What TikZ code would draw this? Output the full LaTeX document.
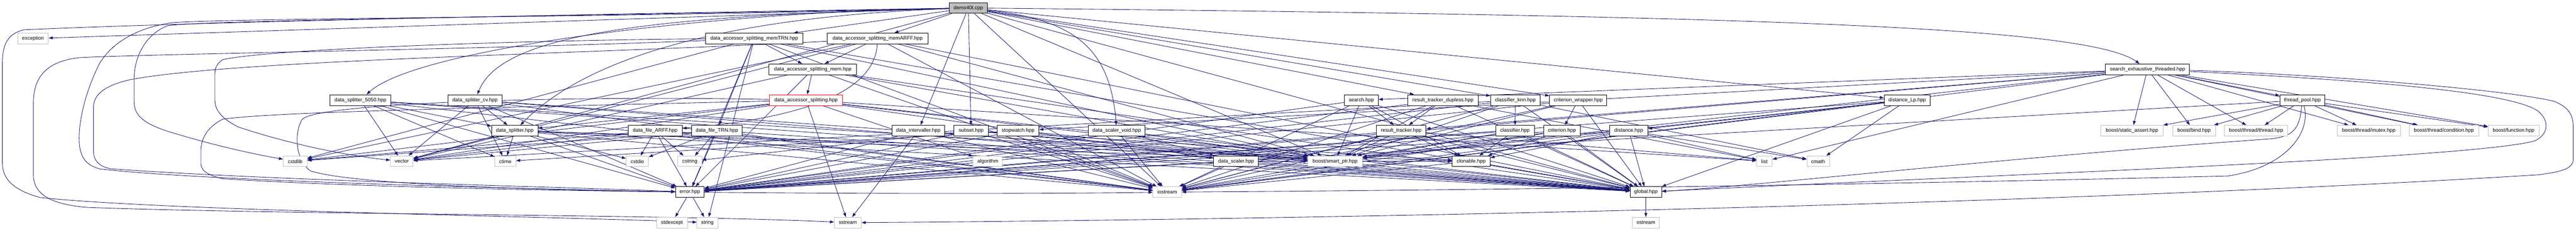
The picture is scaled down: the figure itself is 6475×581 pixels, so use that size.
\documentclass[tikz,border=0pt]{standalone}
\usepackage{fontspec}
\setmainfont{Liberation Sans}
\usetikzlibrary{arrows.meta,backgrounds}
\definecolor{edgeblue}{RGB}{25,25,112}
\definecolor{sysgrey}{RGB}{191,191,191}
\definecolor{demogrey}{RGB}{191,191,191}
\tikzset{
  bw/.style={minimum width=0.25*#1pt},
  proj/.style={draw=black, line width=0.32pt, fill=white, minimum height=6.75pt, inner sep=0pt,
    font=\fontsize{3.2pt}{3.8pt}\selectfont},
  sys/.style={proj, draw=sysgrey},
  edge/.style={draw=edgeblue, line width=0.28pt, -{Triangle[length=2.6pt,width=1.8pt]}},
}
\begin{document}
\begin{tikzpicture}[x=0.25pt,y=-0.25pt]
\useasboundingbox (0,0) rectangle (6475,581);
% row 0
\node[proj,bw=96,fill=demogrey] (demo) at (2434,20) {demo40t.cpp};
% row 1
\node[sys,bw=77] (exception) at (83,97) {exception};
\node[proj,bw=244] (memTRN) at (1896,97) {data\_accessor\_splitting\_memTRN.hpp};
\node[proj,bw=253] (memARFF) at (2206,97) {data\_accessor\_splitting\_memARFF.hpp};
% row 2
\node[proj,bw=220] (mem) at (2043,174.5) {data\_accessor\_splitting\_mem.hpp};
\node[proj,bw=211] (seth) at (5398,174.5) {search\_exhaustive\_threaded.hpp};
% row 3
\node[proj,bw=152] (ds5050) at (906,252) {data\_splitter\_5050.hpp};
\node[proj,bw=136] (dscv) at (1194,252) {data\_splitter\_cv.hpp};
\node[proj,bw=184,draw=red] (das) at (2026,252) {data\_accessor\_splitting.hpp};
\node[proj,bw=85] (search) at (3422,252) {search.hpp};
\node[proj,bw=178] (rtd) at (3627,252) {result\_tracker\_dupless.hpp};
\node[proj,bw=125] (cknn) at (3809,252) {classifier\_knn.hpp};
\node[proj,bw=144] (cw) at (3967,252) {criterion\_wrapper.hpp};
\node[proj,bw=116] (dlp) at (4794,252) {distance\_Lp.hpp};
\node[proj,bw=113] (tp) at (5787,252) {thread\_pool.hpp};
% row 4
\node[proj,bw=116] (dsplit) at (1294,329) {data\_splitter.hpp};
\node[proj,bw=136] (dfarff) at (1647,329) {data\_file\_ARFF.hpp};
\node[proj,bw=127] (dftrn) at (1802,329) {data\_file\_TRN.hpp};
\node[proj,bw=132] (dint) at (2308,329) {data\_intervaller.hpp};
\node[proj,bw=86] (subset) at (2441,329) {subset.hpp};
\node[proj,bw=105] (stopwatch) at (2559,329) {stopwatch.hpp};
\node[proj,bw=143] (dsv) at (2807,329) {data\_scaler\_void.hpp};
\node[proj,bw=125] (rt) at (3522,329) {result\_tracker.hpp};
\node[proj,bw=97] (cls) at (3808,329) {classifier.hpp};
\node[proj,bw=92] (crit) at (3926,329) {criterion.hpp};
\node[proj,bw=96] (dist) at (4094,329) {distance.hpp};
\node[sys,bw=157] (bsa) at (5359,329) {boost/static\_assert.hpp};
\node[sys,bw=107] (bbind) at (5515,329) {boost/bind.hpp};
\node[sys,bw=159] (bthr) at (5671,329) {boost/thread/thread.hpp};
\node[sys,bw=159] (bmut) at (5954,329) {boost/thread/mutex.hpp};
\node[sys,bw=175] (bcond) at (6143,329) {boost/thread/condition.hpp};
\node[sys,bw=128] (bfun) at (6318,329) {boost/function.hpp};
% row 5
\node[sys,bw=60] (cstdlib) at (742,406) {cstdlib};
\node[sys,bw=57] (vector) at (1010,406) {vector};
\node[sys,bw=53] (ctime) at (1270,406) {ctime};
\node[sys,bw=56] (cstdio) at (1602,406) {cstdio};
\node[sys,bw=60] (cstring) at (1734,406) {cstring};
\node[sys,bw=74] (algorithm) at (2483,406) {algorithm};
\node[proj,bw=113] (dscaler) at (3107,406) {data\_scaler.hpp};
\node[sys,bw=137] (bsp) at (3356,406) {boost/smart\_ptr.hpp};
\node[proj,bw=95] (clon) at (3698,406) {clonable.hpp};
\node[sys,bw=39] (list) at (4435,406) {list};
\node[sys,bw=57] (cmath) at (4570,406) {cmath};
% row 6
\node[proj,bw=72] (error) at (1734,483.5) {error.hpp};
\node[sys,bw=72] (iostream) at (2934,483.5) {iostream};
\node[proj,bw=79] (global) at (4137,483.5) {global.hpp};
% row 7
\node[sys,bw=78] (stdexcept) at (1689,560.5) {stdexcept};
\node[sys,bw=52] (string) at (1778,560.5) {string};
\node[sys,bw=68] (sstream) at (2131,560.5) {sstream};
\node[sys,bw=67] (ostream) at (4137,560.5) {ostream};

\begin{scope}[on background layer]
\fill[white] (0,0) rectangle (6475,581);
\foreach \s/\t in {
 demo/exception, demo/iostream, demo/bsp, demo/global, demo/subset, demo/dint, demo/memTRN, demo/memARFF,
 demo/cw, demo/cknn, demo/rtd, demo/dlp, demo/vector,
 memTRN/mem, memTRN/dftrn, memTRN/bsp, memTRN/error, memTRN/global, memTRN/iostream, memTRN/cstdlib, memTRN/string,
 memARFF/mem, memARFF/bsp, memARFF/global, memARFF/iostream, memARFF/vector, memARFF/cstdlib,
 mem/das, mem/bsp, mem/error, mem/global, mem/iostream, mem/vector,
 das/dsplit, das/dscaler, das/algorithm, das/bsp, das/global, das/vector, das/cstdlib, das/list, das/sstream,
 dfarff/cstdio, dfarff/cstring, dfarff/cstdlib, dfarff/error, dfarff/global, dfarff/iostream, dfarff/vector,
 dftrn/cstdio, dftrn/cstring, dftrn/cstdlib, dftrn/error, dftrn/global, dftrn/iostream, dftrn/vector,
 dsplit/vector, dsplit/ctime, dsplit/cstdio, dsplit/error, dsplit/global, dsplit/iostream, dsplit/bsp, dsplit/clon,
 ds5050/dsplit, ds5050/vector, ds5050/ctime, ds5050/error, ds5050/global, ds5050/iostream, ds5050/bsp,
 dscv/dsplit, dscv/vector, dscv/ctime, dscv/error, dscv/global, dscv/iostream, dscv/bsp,
 dint/sstream, dint/error, dint/global, dint/iostream,
 subset/error, subset/global, subset/iostream, subset/bsp, subset/clon, subset/cstring,
 stopwatch/ctime, stopwatch/iostream, stopwatch/global, stopwatch/error,
 dsv/dscaler, dsv/bsp, dsv/error, dsv/global, dsv/iostream,
 dscaler/iostream, dscaler/bsp, dscaler/error, dscaler/global, dscaler/clon,
 search/rt, search/bsp, search/error, search/global, search/iostream, search/clon,
 rtd/rt, rtd/bsp, rtd/list, rtd/error, rtd/global, rtd/iostream,
 rt/bsp, rt/clon, rt/list, rt/error, rt/global, rt/iostream,
 cknn/cls, cknn/bsp, cknn/cmath, cknn/error, cknn/global, cknn/iostream, cknn/vector,
 cls/clon, cls/bsp, cls/error, cls/global, cls/iostream,
 cw/crit, cw/bsp, cw/error, cw/global, cw/iostream,
 crit/clon, crit/bsp, crit/error, crit/global, crit/iostream,
 dlp/dist, dlp/cmath, dlp/bsp, dlp/error, dlp/global, dlp/iostream,
 dist/list, dist/cmath, dist/clon, dist/error, dist/global, dist/iostream,
 seth/search, seth/bsa, seth/bbind, seth/bthr, seth/bmut, seth/bcond, seth/bfun, seth/tp, seth/stopwatch,
 seth/rt, seth/bsp, seth/list, seth/error, seth/iostream,
 tp/bsa, tp/bbind, tp/bthr, tp/bmut, tp/bcond, tp/bfun, tp/error,
 global/ostream, error/stdexcept, error/string, clon/global, clon/iostream}
 { \draw[edge] (\s) -- (\t); }
% curved edges from demo
\draw[edge] (demo) .. controls (1800,30) and (1050,120) .. (ds5050);
\draw[edge] (demo) .. controls (1600,40) and (1260,90) .. (dscv);
\draw[edge] (demo) .. controls (1900,40) and (1500,120) .. (dsplit);
\draw[edge] (demo) .. controls (2700,50) and (2790,120) .. (dsv);
\draw[edge] (demo) .. controls (4500,40) and (5250,70) .. (seth);
\draw[edge] (memARFF) .. controls (2200,200) and (2100,290) .. (dfarff);
% left loops
\draw[edge] (demo) .. controls (1500,35) and (500,55) .. (60,75) .. controls (20,85) and (6,110) .. (6,160)
  -- (6,410) .. controls (6,455) and (40,480) .. (100,497) .. controls (400,530) and (1400,545) .. (string);
\draw[edge] (memTRN) .. controls (1200,125) and (400,135) .. (200,145) .. controls (110,155) and (84,200) .. (84,260)
  -- (84,440) .. controls (84,490) and (130,515) .. (220,522) .. controls (700,540) and (1700,540) .. (sstream);
\draw[edge] (demo) .. controls (1500,45) and (600,45) .. (434,57) .. controls (340,70) and (280,110) .. (250,160)
  .. controls (215,230) and (199,300) .. (199,348) .. controls (199,395) and (215,415) .. (250,425)
  .. controls (500,455) and (1300,475) .. (error);
\draw[edge] (memARFF) .. controls (1500,135) and (600,150) .. (330,200) .. controls (260,215) and (235,240) .. (235,270)
  -- (235,380) .. controls (235,405) and (250,420) .. (280,425) .. controls (700,455) and (1400,470) .. (error);
\draw[edge] (demo) .. controls (1600,38) and (500,50) .. (420,65) .. controls (360,90) and (337,150) .. (337,200)
  -- (337,255) .. controls (337,290) and (360,310) .. (420,330) .. controls (550,370) and (650,390) .. (cstdlib);
\draw[edge] (memTRN) .. controls (1400,100) and (700,120) .. (560,150) .. controls (545,160) and (540,170) .. (540,190)
  -- (540,250) .. controls (540,280) and (560,300) .. (600,320) .. controls (750,370) and (900,395) .. (vector);
\draw[edge] (das) .. controls (1300,270) and (700,280) .. (560,300) .. controls (520,320) and (505,350) .. (505,380)
  -- (505,410) .. controls (505,430) and (520,440) .. (560,450) .. controls (1200,490) and (2500,490) .. (iostream);
\draw[edge] (das) .. controls (1400,240) and (800,260) .. (760,300) .. controls (740,330) and (740,400) .. (780,430)
  .. controls (900,470) and (1500,480) .. (error);
% right loops
\draw[edge] (seth) .. controls (5800,185) and (6300,225) .. (6420,255) .. controls (6468,275) and (6468,300) .. (6468,330)
  -- (6468,400) .. controls (6468,425) and (6440,432) .. (6380,440) .. controls (5000,525) and (3000,555) .. (sstream);
\draw[edge] (seth) .. controls (5800,195) and (6300,222) .. (6380,280) .. controls (6410,305) and (6405,340) .. (6370,355)
  .. controls (6200,400) and (5000,440) .. (global);
\draw[edge] (tp) .. controls (5810,330) and (5750,420) .. (5600,443) .. controls (4500,470) and (3500,480) .. (iostream);
\draw[edge] (tp) .. controls (5780,320) and (5770,345) .. (5700,350) .. controls (5000,400) and (4400,470) .. (global);
\end{scope}
\end{tikzpicture}
\end{document}
